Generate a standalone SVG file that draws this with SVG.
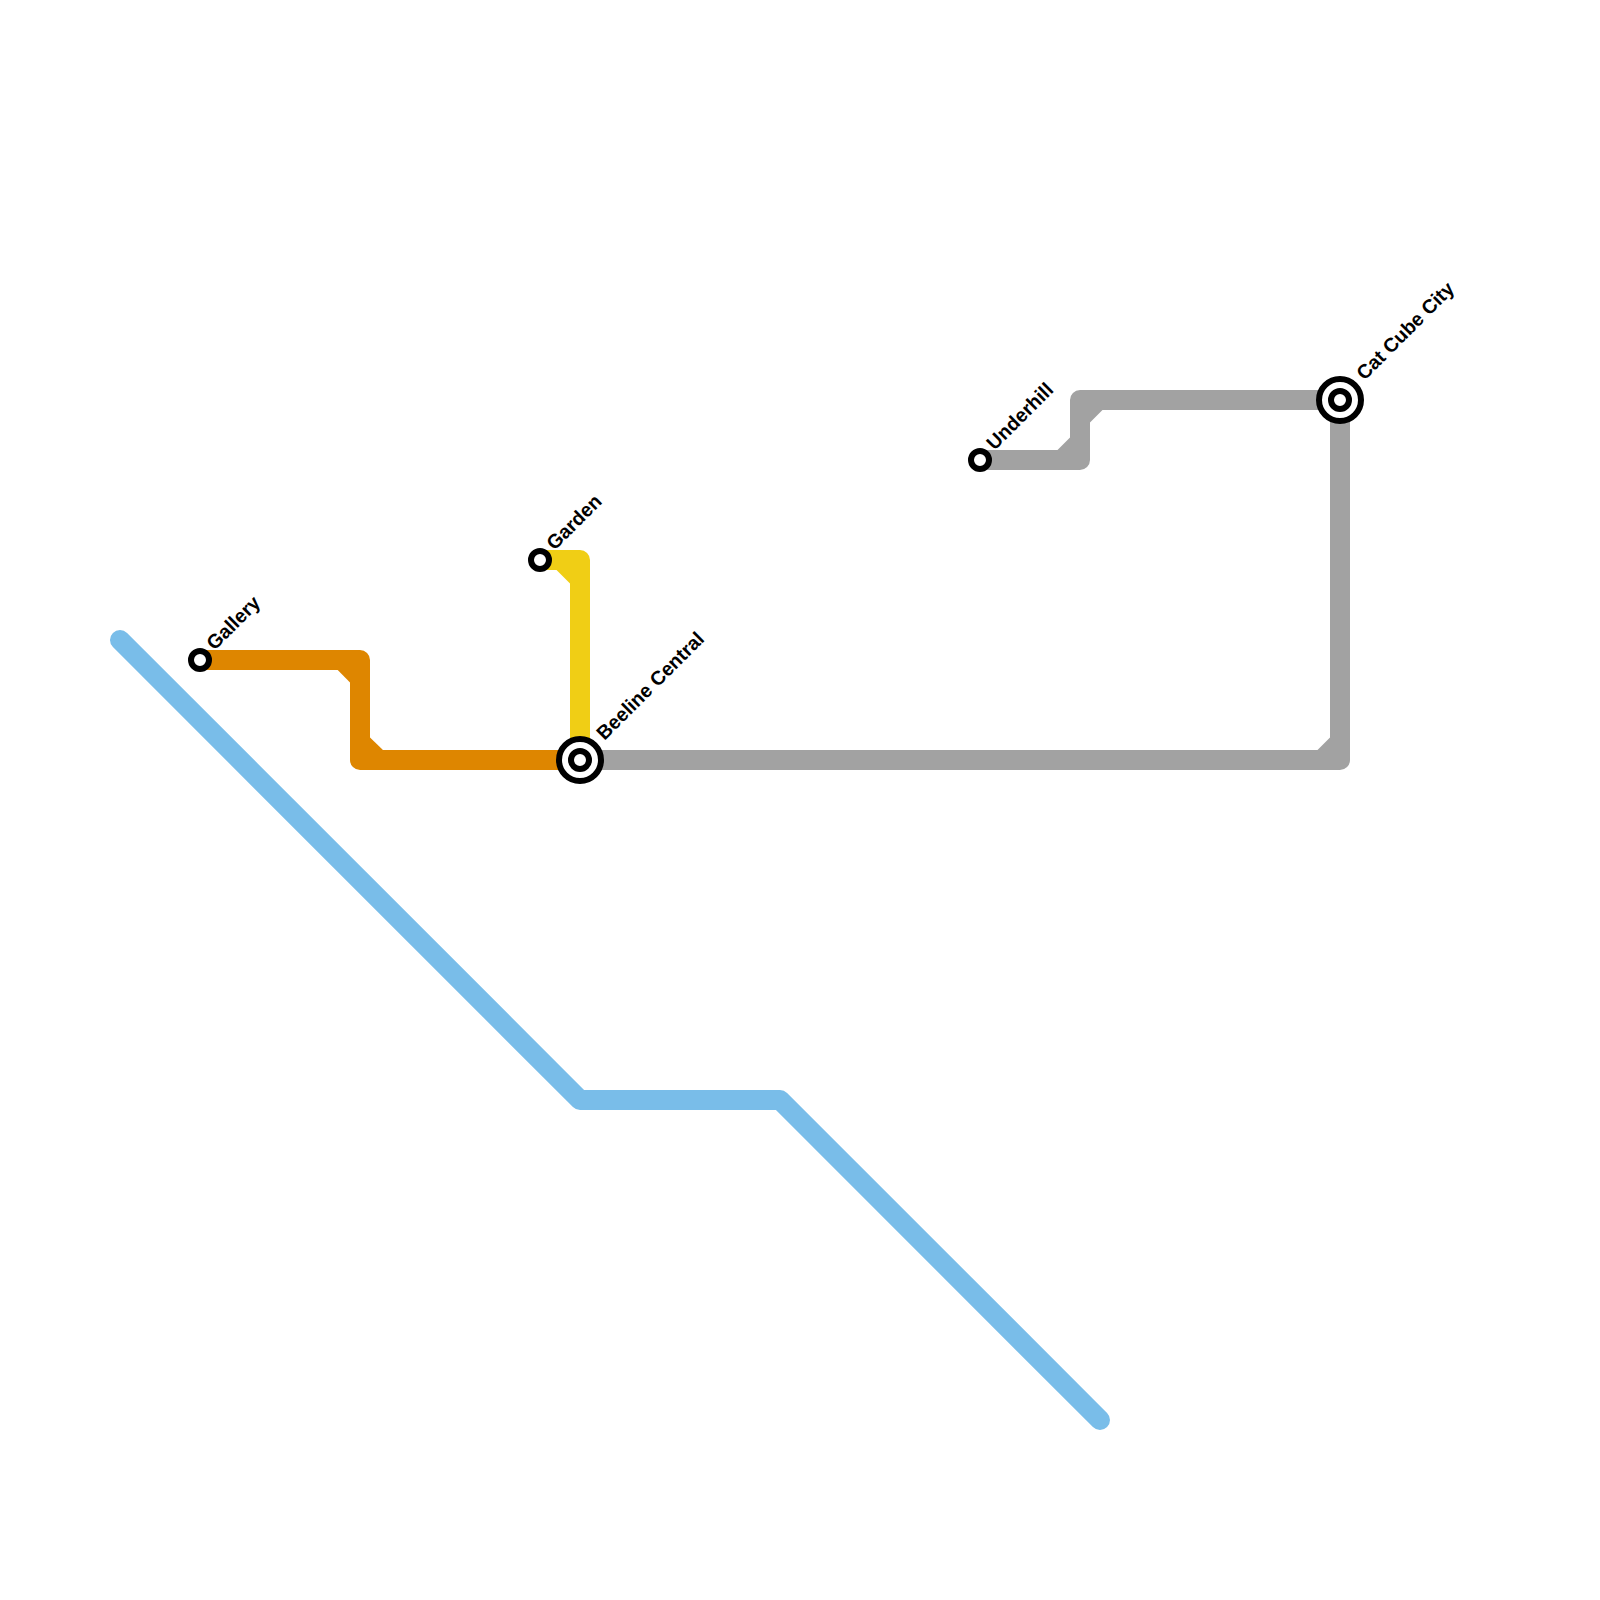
<svg xmlns="http://www.w3.org/2000/svg" width="1600" height="1600" viewBox="0 0 1600 1600">
<style>
.line{fill:none;stroke-width:20;stroke-linejoin:round;stroke-linecap:round}
.butt{stroke-linecap:butt}
.orange{stroke:#de8600}.orangef{fill:#de8600}
.yellow{stroke:#f0ce15}.yellowf{fill:#f0ce15}
.grey{stroke:#a2a2a2}.greyf{fill:#a2a2a2}
.blue{stroke:#79bde9}
.ring{fill:#fff;stroke:#000;stroke-width:6}
.label{font-family:"Liberation Sans",Arial,sans-serif;font-size:19.6px;font-weight:700;fill:#000}
</style>
<rect width="1600" height="1600" fill="#fff"/>
<g id="connectors">
<path class="line blue" d="M120 640L580 1100H780L1100 1420"/>
<path class="line butt orange" d="M200 660H360V760H580"/>
<polygon class="orangef" points="336.7,669 351,669 351,683.5"/>
<polygon class="orangef" points="369,736.5 369,751 384,751"/>
<path class="line butt yellow" d="M540 560H580V760"/>
<polygon class="yellowf" points="555.5,569 571,569 571,584.5"/>
<path class="line butt grey" d="M980 460H1080V400H1340V760H580"/>
<polygon class="greyf" points="1056.5,451 1071,451 1071,436.5"/>
<polygon class="greyf" points="1089,423.5 1089,409 1103.5,409"/>
<polygon class="greyf" points="1316.5,751 1331,751 1331,736.5"/>
</g>
<g id="station-gallery"><circle class="ring" cx="200" cy="660" r="9"/><text class="label" transform="translate(214.5 651) rotate(-45)">Gallery</text></g>
<g id="station-garden"><circle class="ring" cx="540" cy="560" r="9"/><text class="label" transform="translate(554.5 551) rotate(-45)">Garden</text></g>
<g id="station-underhill"><circle class="ring" cx="980" cy="460" r="9"/><text class="label" transform="translate(994.5 451) rotate(-45)">Underhill</text></g>
<g id="station-beeline"><circle class="ring" cx="580" cy="760" r="21"/><circle class="ring" cx="580" cy="760" r="9"/><text class="label" transform="translate(604.5 741) rotate(-45)">Beeline Central</text></g>
<g id="station-catcube"><circle class="ring" cx="1340" cy="400" r="21"/><circle class="ring" cx="1340" cy="400" r="9"/><text class="label" transform="translate(1364.5 381) rotate(-45)">Cat Cube City</text></g>
</svg>
